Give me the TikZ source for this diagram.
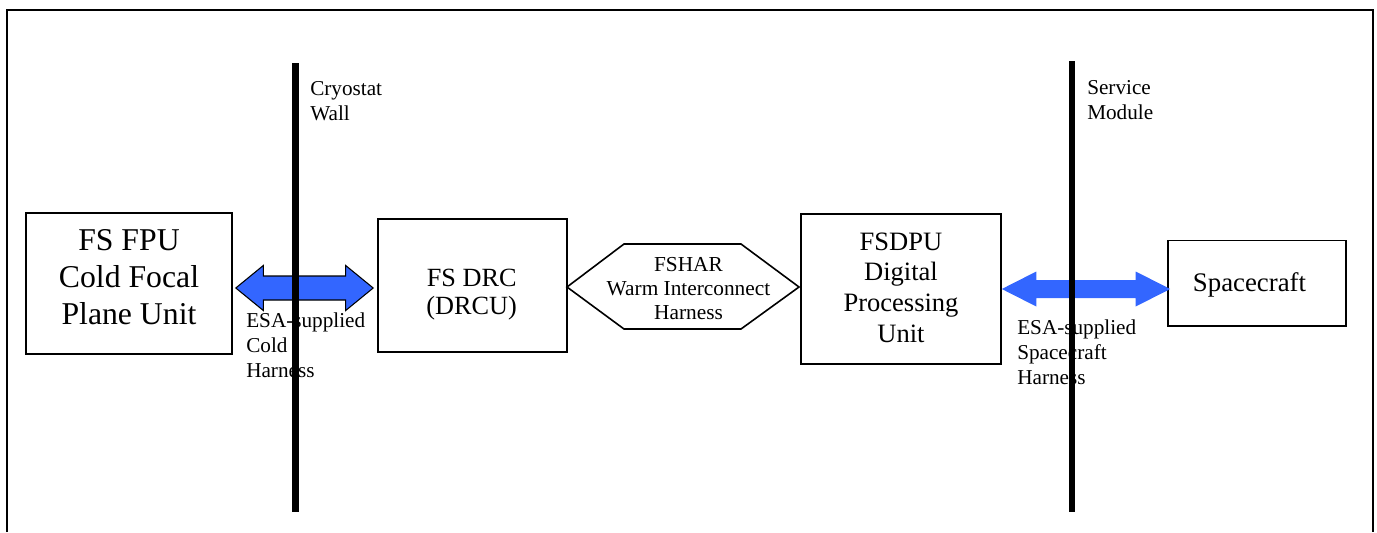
\documentclass[tikz,border=0pt]{standalone}
\usepackage{fontspec}
\setmainfont{Liberation Serif}
\usetikzlibrary{calc}

\definecolor{harnessblue}{RGB}{51,102,255}

% Double-headed harness arrow drawn as a polygon between two tips.
% #1 style, #2 left tip, #3 right tip, #4 head length, #5 head half-height, #6 shaft half-height
\newcommand\harnessarrow[6]{%
  \path[#1] (#2) -- ([shift={(#4,-#5)}]#2) -- ([shift={(#4,-#6)}]#2)
    -- ([shift={(-#4,-#6)}]#3) -- ([shift={(-#4,-#5)}]#3) -- (#3)
    -- ([shift={(-#4,#5)}]#3) -- ([shift={(-#4,#6)}]#3)
    -- ([shift={(#4,#6)}]#2) -- ([shift={(#4,#5)}]#2) -- cycle;}

\tikzset{
  frameline/.style={line width=1.1pt, black},
  unitbox/.style={draw, line width=1.2pt, rectangle, inner sep=0pt},
  boxtext/.style={anchor=base, align=center, inner sep=0pt},
  sidelabel/.style={anchor=base west, align=left, inner sep=0pt,
    font=\fontsize{15.9}{18.4}\selectfont},
  wall/.style={line width=5.2pt, black},
  coldarrow/.style={fill=harnessblue, draw=black, line width=0.8pt, line join=miter},
  warmarrow/.style={fill=harnessblue},
}

\begin{document}
\begin{tikzpicture}[x=0.75pt, y=-0.75pt]
\useasboundingbox (0,0) rectangle (1377,532);

% outer frame (open at the bottom edge)
\draw[frameline] (7,532) -- (7,10) -- (1373,10) -- (1373,532);

% units
\node[unitbox, minimum width=154.5pt, minimum height=105.75pt] (fpu) at (129,283.5) {};
\node[unitbox, minimum width=141.75pt, minimum height=99.75pt] (drc) at (472.5,285.5) {};
\node[unitbox, minimum width=150pt, minimum height=112.5pt] (dpu) at (901,289) {};
\node[unitbox, minimum width=133.5pt, minimum height=64.1pt] (sc) at (1257,283.25) {};

% unit names (anchored on the baseline of their last line)
\node[boxtext, font=\fontsize{23.8}{27.7}\selectfont] (fputxt) at (129,324)
  {FS FPU\\Cold Focal\\Plane Unit};
\node[boxtext, font=\fontsize{19.7}{21}\selectfont] (drctxt) at (471.7,314)
  {FS DRC\\(DRCU)};
\node[boxtext, font=\fontsize{19.9}{23}\selectfont] (dputxt) at (901,342)
  {FSDPU\\Digital\\Processing\\Unit};
\node[boxtext, font=\fontsize{20.1}{23}\selectfont] (sctxt) at (1249.5,291)
  {Spacecraft};

% warm interconnect harness
\draw[line width=1.2pt, line join=miter] (567,287) -- (624,244) -- (741,244) -- (799,287)
  -- (741,329) -- (624,329) -- cycle;
\node[boxtext, font=\fontsize{16}{18}\selectfont] (har) at (688.5,319)
  {FSHAR\\Warm Interconnect\\Harness};

% ESA-supplied harnesses
\coordinate (a1l) at ([shift={(3,4.5)}]fpu.east);
\coordinate (a1r) at ([shift={(-4,2.5)}]drc.west);
\harnessarrow{coldarrow}{a1l}{a1r}{27.5}{22.5}{12}
\coordinate (a2l) at (dpu.east);
\coordinate (a2r) at ([shift={(3,5.75)}]sc.west);
\harnessarrow{warmarrow}{a2l}{a2r}{34.5}{17.5}{9}

% labels
\node[sidelabel] (cryo) at (310,120) {Cryostat\\Wall};
\node[sidelabel] (coldh) at (246,377) {ESA-supplied\\Cold\\Harness};
\node[sidelabel] (svc) at (1087,119) {Service\\Module};
\node[sidelabel] (sch) at (1017,384) {ESA-supplied\\Spacecraft\\Harness};

% cryostat wall and service module boundary
\coordinate (w1t) at (295.5,63);
\coordinate (w1b) at (295.5,512);
\draw[wall] (w1t) -- (w1b);
\coordinate (w2t) at (1072,61);
\coordinate (w2b) at (1072,512);
\draw[wall, line width=4.4pt] (w2t) -- (w2b);
\end{tikzpicture}
\end{document}
